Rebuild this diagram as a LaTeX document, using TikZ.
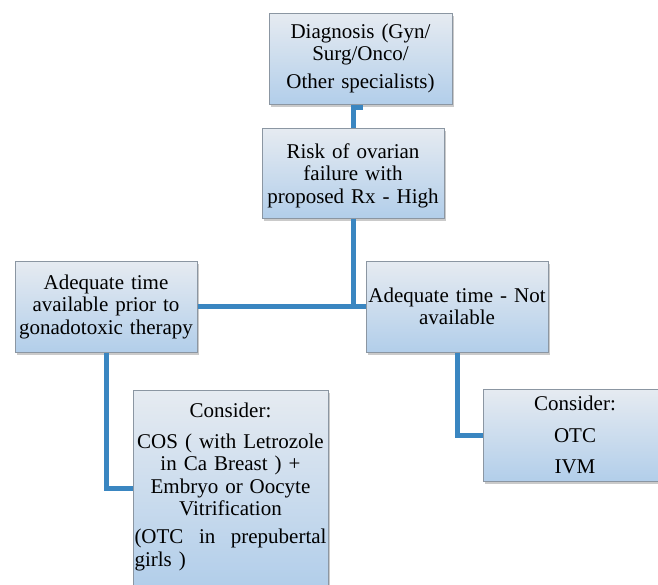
\documentclass[tikz,border=0pt]{standalone}
\usepackage{fontspec}
\setmainfont{Liberation Serif}
\usetikzlibrary{shadows}
\definecolor{boxtop}{HTML}{E6EBF1}
\definecolor{boxbot}{HTML}{B2CEEA}
\definecolor{boxedge}{HTML}{8B96A2}
\definecolor{conn}{HTML}{3A86C1}
\tikzset{
  fbox/.style={draw=boxedge, line width=1pt, top color=boxtop, bottom color=boxbot,
    inner sep=0pt, align=center, font=\fontsize{21pt}{22.5pt}\selectfont,
    drop shadow={shadow xshift=1.5pt, shadow yshift=-2.5pt, opacity=0.35, fill=black!60}},
  txt/.style={inner sep=0pt, align=center, font=\fontsize{21pt}{22.5pt}\selectfont},
  link/.style={draw=conn, line width=5pt}
}
\begin{document}
\begin{tikzpicture}[x=1pt,y=-1pt]
\useasboundingbox (0,0) rectangle (658,584);
\clip (0,0) rectangle (658,584);

\node[fbox, minimum width=183pt, minimum height=91pt, text width=178pt] (diag) at (360.5,58.5)
  {Diagnosis (Gyn/\\Surg/Onco/\\[5.5pt]Other specialists)};
\node[fbox, minimum width=182pt, minimum height=90pt, text width=178pt] (risk) at (353,173)
  {\rule{0pt}{20pt}Risk of ovarian\\failure with\\proposed Rx - High};
\node[fbox, minimum width=182pt, minimum height=91pt, text width=178pt] (left) at (106,306.5)
  {Adequate time\\available prior to\\gonadotoxic therapy};
\node[fbox, minimum width=182pt, minimum height=91pt, text width=178pt] (right) at (457,306.5)
  {Adequate time - Not\\available};
\node[fbox, minimum width=195pt, minimum height=196pt] (cl) at (230.5,488) {};
\node[txt, text width=192pt, anchor=north] (clt) at (230.5,402.5)
  {Consider:\\[8.5pt]COS ( with Letrozole\\in Ca Breast ) +\\Embryo or Oocyte\\Vitrification\\[5.5pt]%
   \makebox[192pt][s]{(OTC\hfill in\hfill prepubertal}\\\makebox[192pt][l]{girls )}};
\node[fbox, minimum width=184pt, minimum height=92pt, text width=180pt] (cr) at (575,435)
  {Consider:\\[9pt]OTC\\[9pt]IVM};

\draw[link] (diag.south) -- ++(0,3) -| (risk.north);
\draw[link] (risk.south) |- (left.east);
\draw[link] (risk.south) |- (right.west);
\draw[link] (left.south) |- (cl.west);
\draw[link] (right.south) |- (cr.west);
\end{tikzpicture}
\end{document}
